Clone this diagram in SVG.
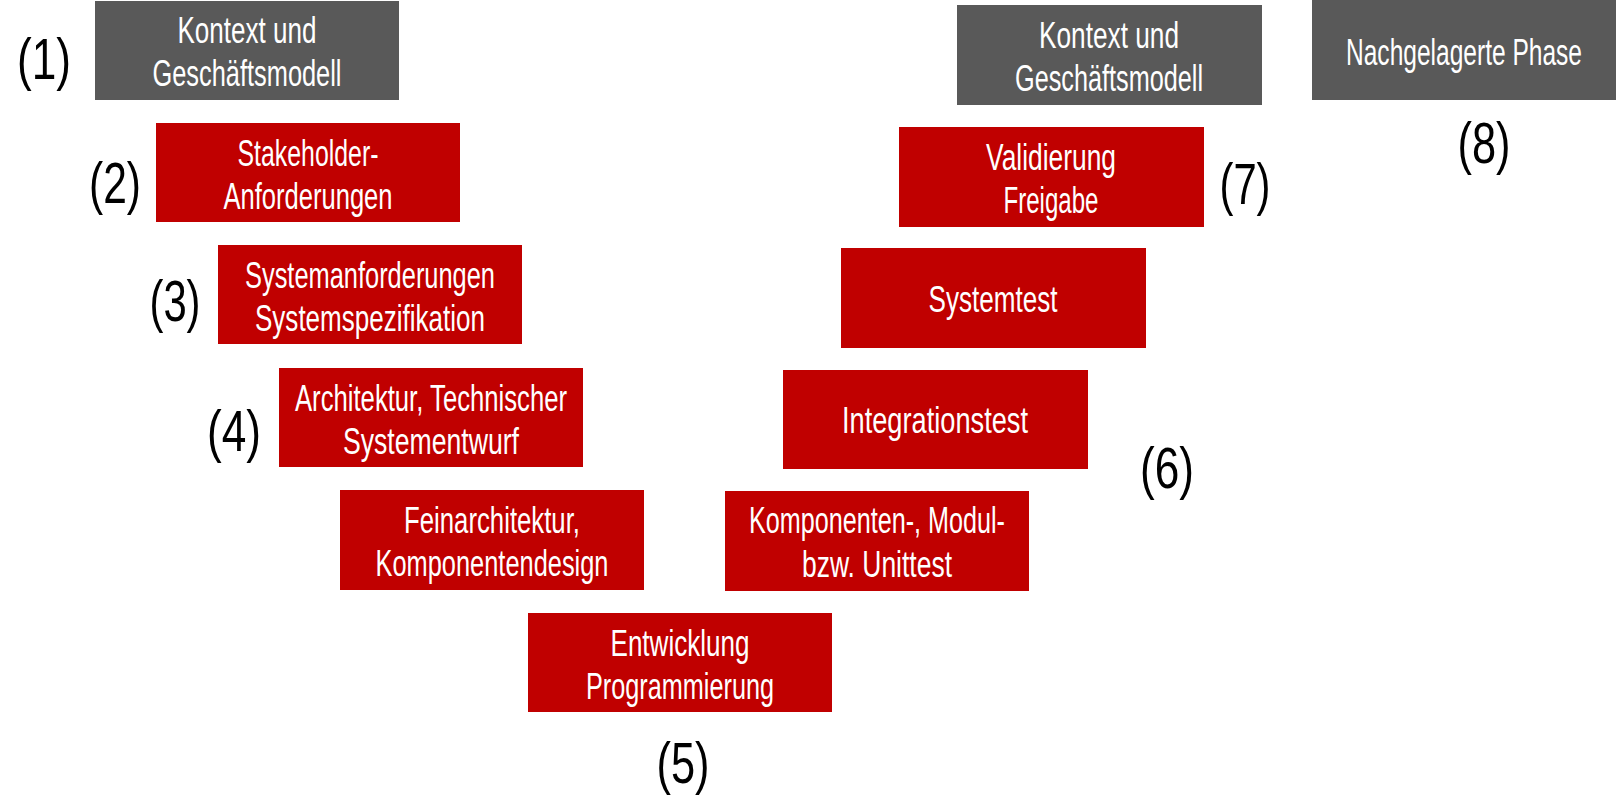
<svg xmlns="http://www.w3.org/2000/svg" width="1617" height="801" viewBox="0 0 1617 801">
<style>
.g{fill:#595959}
.r{fill:#C00000}
.t{font-family:"Liberation Sans Narrow","Liberation Sans",Arial,sans-serif;font-size:36px;fill:#fff;text-anchor:middle}
.n{font-family:"Liberation Sans Narrow","Liberation Sans",Arial,sans-serif;font-size:57px;fill:#000;text-anchor:middle}
</style>
<rect width="1617" height="801" fill="#fff"/>
<g id="connectors"/>
<g id="n1"><rect class="g" x="95" y="1" width="304" height="99"/>
<text class="t" x="247" y="43" textLength="139" lengthAdjust="spacingAndGlyphs">Kontext und</text>
<text class="t" x="247" y="86" textLength="189" lengthAdjust="spacingAndGlyphs">Geschäftsmodell</text></g>
<g id="n2"><rect class="r" x="156" y="123" width="304" height="99"/>
<text class="t" x="308" y="166" textLength="141" lengthAdjust="spacingAndGlyphs">Stakeholder-</text>
<text class="t" x="308" y="209" textLength="169" lengthAdjust="spacingAndGlyphs">Anforderungen</text></g>
<g id="n3"><rect class="r" x="218" y="245" width="304" height="99"/>
<text class="t" x="370" y="288" textLength="250" lengthAdjust="spacingAndGlyphs">Systemanforderungen</text>
<text class="t" x="370" y="331" textLength="230" lengthAdjust="spacingAndGlyphs">Systemspezifikation</text></g>
<g id="n4"><rect class="r" x="279" y="368" width="304" height="99"/>
<text class="t" x="431" y="411" textLength="272" lengthAdjust="spacingAndGlyphs">Architektur, Technischer</text>
<text class="t" x="431" y="454" textLength="176" lengthAdjust="spacingAndGlyphs">Systementwurf</text></g>
<g id="n5"><rect class="r" x="340" y="490" width="304" height="100"/>
<text class="t" x="492" y="533" textLength="176" lengthAdjust="spacingAndGlyphs">Feinarchitektur,</text>
<text class="t" x="492" y="576" textLength="233" lengthAdjust="spacingAndGlyphs">Komponentendesign</text></g>
<g id="n6"><rect class="r" x="528" y="613" width="304" height="99"/>
<text class="t" x="680" y="656" textLength="139" lengthAdjust="spacingAndGlyphs">Entwicklung</text>
<text class="t" x="680" y="699" textLength="188" lengthAdjust="spacingAndGlyphs">Programmierung</text></g>
<g id="n7"><rect class="r" x="725" y="491" width="304" height="100"/>
<text class="t" x="877" y="533" textLength="256" lengthAdjust="spacingAndGlyphs">Komponenten-, Modul-</text>
<text class="t" x="877" y="577" textLength="150" lengthAdjust="spacingAndGlyphs">bzw. Unittest</text></g>
<g id="n8"><rect class="r" x="783" y="370" width="305" height="99"/>
<text class="t" x="935" y="433" textLength="186" lengthAdjust="spacingAndGlyphs">Integrationstest</text></g>
<g id="n9"><rect class="r" x="841" y="248" width="305" height="100"/>
<text class="t" x="993" y="312" textLength="129" lengthAdjust="spacingAndGlyphs">Systemtest</text></g>
<g id="n10"><rect class="r" x="899" y="127" width="305" height="100"/>
<text class="t" x="1051" y="170" textLength="130" lengthAdjust="spacingAndGlyphs">Validierung</text>
<text class="t" x="1051" y="213" textLength="95" lengthAdjust="spacingAndGlyphs">Freigabe</text></g>
<g id="n11"><rect class="g" x="957" y="5" width="305" height="100"/>
<text class="t" x="1109" y="48" textLength="140" lengthAdjust="spacingAndGlyphs">Kontext und</text>
<text class="t" x="1109" y="91" textLength="188" lengthAdjust="spacingAndGlyphs">Geschäftsmodell</text></g>
<g id="n12"><rect class="g" x="1312" y="0" width="304" height="100"/>
<text class="t" x="1464" y="65" textLength="236" lengthAdjust="spacingAndGlyphs">Nachgelagerte Phase</text></g>
<g id="labels">
<text class="n" x="44" y="79" textLength="54" lengthAdjust="spacingAndGlyphs">(1)</text>
<text class="n" x="115" y="203" textLength="52" lengthAdjust="spacingAndGlyphs">(2)</text>
<text class="n" x="175" y="321" textLength="51" lengthAdjust="spacingAndGlyphs">(3)</text>
<text class="n" x="234" y="451" textLength="54" lengthAdjust="spacingAndGlyphs">(4)</text>
<text class="n" x="683" y="783" textLength="53" lengthAdjust="spacingAndGlyphs">(5)</text>
<text class="n" x="1167" y="488" textLength="54" lengthAdjust="spacingAndGlyphs">(6)</text>
<text class="n" x="1245" y="204" textLength="51" lengthAdjust="spacingAndGlyphs">(7)</text>
<text class="n" x="1484" y="163" textLength="53" lengthAdjust="spacingAndGlyphs">(8)</text>
</g>
</svg>
